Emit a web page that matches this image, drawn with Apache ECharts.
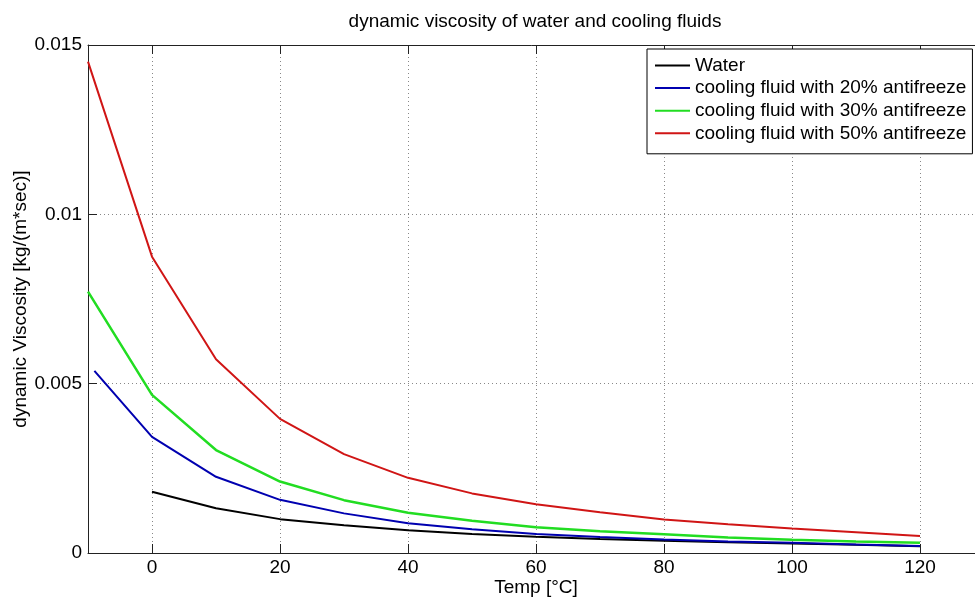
<!DOCTYPE html>
<html>
<head>
<meta charset="utf-8">
<script src="https://cdn.jsdelivr.net/npm/echarts@6/dist/echarts.min.js"></script>
<style>html,body{margin:0;padding:0;background:#fff}#chart{width:975px;height:600px}</style>
</head>
<body>
<div id="chart"></div>
<script>
var titleText = 'dynamic viscosity of water and cooling fluids';
var xName = 'Temp [°C]';
var yName = 'dynamic Viscosity [kg/(m*sec)]';
var seriesNames = ['Water', 'cooling fluid with 20% antifreeze', 'cooling fluid with 30% antifreeze', 'cooling fluid with 50% antifreeze'];

var tempsWater = [0, 10, 20, 30, 40, 50, 60, 70, 80, 90, 100, 110, 120];
var water = [0.00181, 0.00132, 0.00100, 0.00082, 0.00067, 0.00056, 0.00048, 0.00041, 0.00036, 0.00032, 0.00028, 0.00024, 0.00020];

var tempsFluid20 = [-9, 0, 10, 20, 30, 40, 50, 60, 70, 80, 90, 100, 110, 120];
var fluid20 = [0.00538, 0.00343, 0.00225, 0.00157, 0.00117, 0.00088, 0.00070, 0.00056, 0.00047, 0.00040, 0.00034, 0.00030, 0.00025, 0.00021];

var tempsFluid = [-10, 0, 10, 20, 30, 40, 50, 60, 70, 80, 90, 100, 110, 120];
var fluid30 = [0.00772, 0.00467, 0.00304, 0.00211, 0.00156, 0.00119, 0.00095, 0.00076, 0.00064, 0.00055, 0.00046, 0.00039, 0.00034, 0.00030];
var fluid50 = [0.01451, 0.00875, 0.00572, 0.00396, 0.00292, 0.00222, 0.00176, 0.00144, 0.00120, 0.00099, 0.00085, 0.00072, 0.00061, 0.00050];

var xMin = -10, xMax = 130;
var yMin = 0, yMax = 0.015, yStep = 0.005;

function pairs(xs, ys) { return xs.map(function (x, i) { return [x, ys[i]]; }); }

var FONT = 'Liberation Sans, Arial, sans-serif';
var FS = 19;
var chart = echarts.init(document.getElementById('chart'), null, { renderer: 'canvas' });

var gridLine = { show: true, lineStyle: { color: '#888', type: [1, 3], width: 1 } };

chart.setOption({
  animation: false,
  backgroundColor: '#fff',
  title: {
    text: titleText, left: 530, top: 7, textAlign: 'center',
    textStyle: { fontFamily: FONT, fontSize: FS, fontWeight: 'normal', color: '#000' }
  },
  legend: {
    orient: 'vertical', left: 647, top: 49,
    data: seriesNames,
    icon: 'rect', itemWidth: 35, itemHeight: 2, itemGap: 3.6,
    padding: [7, 6, 11, 8],
    borderColor: '#000', borderWidth: 1, borderRadius: 0, backgroundColor: '#fff',
    textStyle: { fontFamily: FONT, fontSize: FS, color: '#000', lineHeight: 19 }
  },
  grid: { left: 88, top: 45, width: 896, height: 508, containLabel: false, outerBoundsMode: 'none' },
  xAxis: [{
    type: 'value', min: xMin, max: xMax, position: 'bottom',
    name: xName, nameLocation: 'middle', nameGap: 25, nameMoveOverlap: false,
    nameTextStyle: { fontFamily: FONT, fontSize: FS, color: '#000' },
    axisLine: { show: true, onZero: false, lineStyle: { color: '#222', width: 1 } },
    axisTick: { show: true, inside: true, length: 9, lineStyle: { color: '#222' } },
    axisLabel: { fontFamily: FONT, fontSize: FS, color: '#000', margin: 5,
      formatter: function (v) { return (v % 20 === 0) ? String(v) : ''; } },
    splitLine: Object.assign({ showMinLine: false, showMaxLine: false }, gridLine),
    splitNumber: 7
  }, {
    type: 'value', min: xMin, max: xMax, position: 'top',
    axisLine: { show: true, onZero: false, lineStyle: { color: '#222', width: 1 } },
    axisTick: { show: true, inside: true, length: 9, lineStyle: { color: '#222' } },
    axisLabel: { show: false }, splitLine: { show: false }, splitNumber: 7
  }],
  yAxis: [{
    type: 'value', min: yMin, max: yMax, interval: yStep,
    name: yName, nameLocation: 'middle', nameGap: 58, nameMoveOverlap: false,
    nameTextStyle: { fontFamily: FONT, fontSize: FS, color: '#000' },
    axisLine: { show: true, onZero: false, lineStyle: { color: '#222', width: 1 } },
    axisTick: { show: true, inside: true, length: 9, lineStyle: { color: '#222' } },
    axisLabel: { fontFamily: FONT, fontSize: FS, color: '#000', margin: 6,
      formatter: function (v) { return String(+v.toFixed(4)); } },
    splitLine: Object.assign({ showMinLine: false, showMaxLine: false }, gridLine)
  }],
  series: [
    { name: seriesNames[0], type: 'line', data: pairs(tempsWater, water), symbol: 'none', color: '#000000', lineStyle: { width: 2 }, z: 2 },
    { name: seriesNames[1], type: 'line', data: pairs(tempsFluid20, fluid20), symbol: 'none', color: '#0000b0', lineStyle: { width: 2 }, z: 3 },
    { name: seriesNames[2], type: 'line', data: pairs(tempsFluid, fluid30), symbol: 'none', color: '#22dd22', lineStyle: { width: 2.5 }, z: 4 },
    { name: seriesNames[3], type: 'line', data: pairs(tempsFluid, fluid50), symbol: 'none', color: '#d01515', lineStyle: { width: 2 }, z: 5 }
  ]
});
</script>
</body>
</html>
